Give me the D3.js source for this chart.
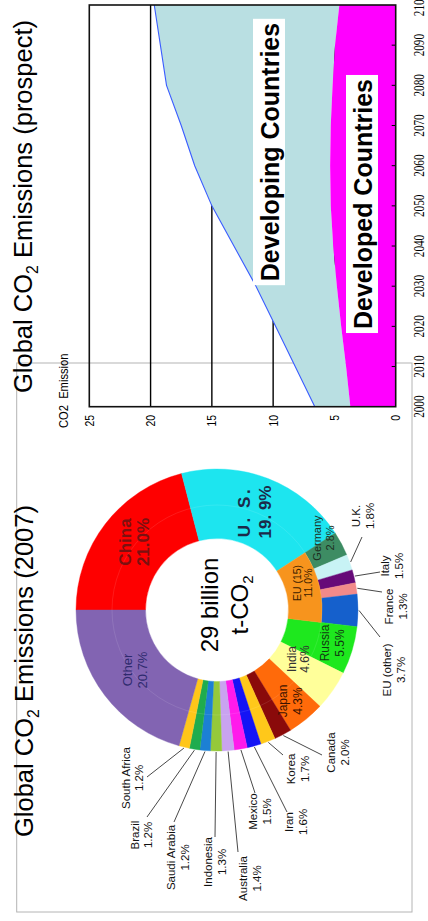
<!DOCTYPE html>
<html>
<head>
<meta charset="utf-8">
<script src="https://cdn.jsdelivr.net/npm/d3@7"></script>
<style>
  body { margin: 0; background: #fff; }
  svg { display: block; }
  text { font-family: "Liberation Sans", Arial, sans-serif; }
</style>
</head>
<body>
<svg id="chart" width="428" height="921"></svg>
<script>
// ---- 2007 emission shares (percent of 29 billion t-CO2) ----
const countries = ["China", "U. S.", "Germany", "U.K.", "Italy", "France", "EU (other)",
  "Russia", "India", "Japan", "Canada", "Korea", "Iran", "Mexico", "Australia",
  "Indonesia", "Saudi Arabia", "Brazil", "South Africa", "Other"];
const shares = [21.0, 19.9, 2.8, 1.8, 1.5, 1.3, 3.7, 5.5, 4.6, 4.3, 2.0, 1.7, 1.6, 1.5, 1.4,
  1.3, 1.2, 1.2, 1.2, 20.7];
const shareLabels = ["21.0%", "19. 9%", "2.8%", "1.8%", "1.5%", "1.3%", "3.7%", "5.5%", "4.6%",
  "4.3%", "2.0%", "1.7%", "1.6%", "1.5%", "1.4%", "1.3%", "1.2%", "1.2%", "1.2%", "20.7%"];
const sliceColors = ["#fe0000", "#1de5ef", "#3d8c63", "#c8f3f5", "#660a78", "#f28a8a", "#1560cc",
  "#1ee81e", "#ffff9a", "#ff6a0a", "#8a0a0a", "#ffc81a", "#1414f5", "#ff1aeb", "#c9a3f0",
  "#95c93a", "#1c80d4", "#1fac4e", "#ffc61a", "#8264b2"];
const euMembers = ["Germany", "U.K.", "Italy", "France", "EU (other)"];
const euName = "EU (15)";
const euShare = 11.0;

// ---- emission outlook (billion t-CO2) ----
const years = [2000, 2010, 2020, 2030, 2040, 2050, 2060, 2070, 2080, 2090, 2100];
const totalEmission = [6.6, 8.2, 9.8, 11.4, 13.2, 15.0, 16.4, 17.5, 18.7, 19.2, 19.7];
const developedEmission = [3.7, 4.05, 4.45, 4.8, 5.1, 5.3, 5.35, 5.3, 5.15, 4.95, 4.6];
const emissionTicks = [0, 5, 10, 15, 20, 25];
const gridValues = [5, 10, 15, 20];

// ---------------------------------------------------------------
const svg = d3.select("#chart");
svg.append("rect").attr("width", 428).attr("height", 921).attr("fill", "#fff");
// the slide is laid out landscape (921 x 428) and turned a quarter turn
const root = svg.append("g").attr("transform", "translate(0,921) rotate(-90)");

// thin grey panel outline
root.append("rect")
  .attr("x", 9).attr("y", 16.7).attr("width", 549).attr("height", 395.3)
  .attr("fill", "none").attr("stroke", "#b4b4b4").attr("stroke-width", 1);

function subTitle(g, x, y, size, before, sub, after) {
  const t = g.append("text").attr("x", x).attr("y", y)
    .attr("font-size", size).attr("fill", "#000");
  t.append("tspan").text(before);
  t.append("tspan").attr("font-size", size * 0.62).attr("dy", size * 0.22).text(sub);
  t.append("tspan").attr("dy", -size * 0.22).text(after);
  return t;
}

// ================= donut chart =================
const cx = 311, cy = 217;
const rIn = 71.5, rMid = 105, rOut = 141;
const pg = root.append("g").attr("transform", `translate(${cx},${cy})`);

subTitle(root, 84, 33, 25.5, "Global CO", "2", " Emissions (2007)");

const pieData = countries.map((c, i) => ({ name: c, share: shares[i], label: shareLabels[i], color: sliceColors[i] }));
const pie = d3.pie().sort(null).value(d => d.share);
const arcs = pie(pieData);
const arcFull = d3.arc().innerRadius(rIn).outerRadius(rOut);
const arcOuter = d3.arc().innerRadius(rMid).outerRadius(rOut);
const arcInner = d3.arc().innerRadius(rIn).outerRadius(rMid);

pg.selectAll("path.slice").data(arcs).join("path")
  .attr("class", "slice")
  .attr("d", d => euMembers.includes(d.data.name) ? arcOuter(d) : arcFull(d))
  .attr("fill", d => d.data.color)
  .attr("stroke", d => d.data.color).attr("stroke-width", 0.4);

const euArcs = arcs.filter(d => euMembers.includes(d.data.name));
pg.append("path")
  .attr("d", arcInner({ startAngle: euArcs[0].startAngle, endAngle: euArcs[euArcs.length - 1].endAngle }))
  .attr("fill", "#f7941d").attr("stroke", "#f7941d").attr("stroke-width", 0.4);

// faint ring between inner and outer band
pg.append("circle").attr("r", rMid).attr("fill", "none")
  .attr("stroke", "#fff").attr("stroke-opacity", 0.1).attr("stroke-width", 1);

// labels drawn inside the ring: [name, dx, dy(center), line gap, size, bold, colour]
const insideLayout = [
  ["China", 68, -83, 18, 17, true, "#7b1010"],
  ["U. S.", 98, 37.5, 21, 17, true, "#1c2b4a"],
  ["Other", -60, -82.5, 15, 13, false, "#2e2a6e"],
  ["Germany", 72, 106.5, 13, 11, false, "#1d2e22"],
  ["Russia", -33, 115, 15, 12, false, "#123812"],
  ["India", -49, 81.5, 13, 12, false, "#333"],
  ["Japan", -91, 73.5, 15, 12, false, "#3a1200"]
];
insideLayout.forEach(([name, dx, dy, gap, size, bold, col]) => {
  const d = pieData.find(p => p.name === name);
  const t = pg.append("text").attr("text-anchor", "middle").attr("font-size", size)
    .attr("font-weight", bold ? "bold" : "normal").attr("fill", col);
  t.append("tspan").attr("x", dx).attr("y", dy - gap / 2 + size * 0.36)
    .attr("letter-spacing", name === "U. S." ? 2.5 : 0).text(d.name);
  t.append("tspan").attr("x", dx).attr("y", dy + gap / 2 + size * 0.36).text(d.label);
});
{
  const t = pg.append("text").attr("text-anchor", "middle").attr("font-size", 10.5).attr("fill", "#3a2000");
  t.append("tspan").attr("x", 27).attr("y", 85.5 - 5.5 + 3.8).text(euName);
  t.append("tspan").attr("x", 27).attr("y", 85.5 + 5.5 + 3.8).text(euShare.toFixed(1) + "%");
}

// labels outside with leader lines: [name, text center u, name baseline v, leader end u, v]
const outsideLayout = [
  ["South Africa", 143, 129.5, 144, 147],
  ["Brazil", 86, 138.5, 104, 147],
  ["Saudi Arabia", 63.5, 175, 99, 174],
  ["Indonesia", 59, 212, 84, 215],
  ["Australia", 42.5, 247, 69, 238],
  ["Mexico", 109.5, 257, 128, 255],
  ["Iran", 99, 293, 109, 287],
  ["Korea", 152, 295, 166, 283],
  ["Canada", 168.5, 335, 166, 322],
  ["EU (other)", 251, 391, 284, 380],
  ["France", 314.5, 393, 329, 382],
  ["Italy", 355, 389, 349, 380],
  ["U.K.", 405, 360, 384, 362]
];
outsideLayout.forEach(([name, tu, tv, eu, ev]) => {
  const a = arcs.find(d => d.data.name === name);
  const mid = (a.startAngle + a.endAngle) / 2;
  const r0 = rOut + 1;
  pg.append("line")
    .attr("x1", Math.sin(mid) * r0).attr("y1", -Math.cos(mid) * r0)
    .attr("x2", eu - cx).attr("y2", ev - cy)
    .attr("stroke", "#333").attr("stroke-width", 0.9);
  const t = pg.append("text").attr("text-anchor", "middle").attr("font-size", 11.5).attr("fill", "#111");
  t.append("tspan").attr("x", tu - cx).attr("y", tv - cy).text(name);
  t.append("tspan").attr("x", tu - cx).attr("y", tv - cy + 13.5).text(a.data.label);
});

// centre total
pg.append("text").attr("text-anchor", "middle").attr("x", 5).attr("y", 1)
  .attr("font-size", 24).attr("fill", "#000").text("29 billion");
{
  const t = pg.append("text").attr("text-anchor", "middle").attr("x", 5).attr("y", 31)
    .attr("font-size", 24).attr("fill", "#000");
  t.append("tspan").text("t-CO");
  t.append("tspan").attr("font-size", 15).attr("dy", 5).text("2");
}

// ================= area chart =================
const x = d3.scaleLinear().domain([2000, 2100]).range([514.3, 916]);
const y = d3.scaleLinear().domain([0, 25]).range([395.7, 89.3]);
const ag = root.append("g");

subTitle(root, 528, 32, 25.5, "Global CO", "2", " Emissions (prospect)");

ag.selectAll("line.grid").data(gridValues).join("line")
  .attr("class", "grid")
  .attr("x1", x(2000)).attr("x2", x(2100))
  .attr("y1", d => y(d)).attr("y2", d => y(d))
  .attr("stroke", "#000").attr("stroke-width", 1.4);

const rows = years.map((yr, i) => ({ year: yr, dev: developedEmission[i], total: totalEmission[i] }));
ag.append("path").datum(rows)
  .attr("d", d3.area().x(d => x(d.year)).y0(d => y(d.dev)).y1(d => y(d.total)))
  .attr("fill", "#b9dfe2");
ag.append("path").datum(rows)
  .attr("d", d3.area().x(d => x(d.year)).y0(y(0)).y1(d => y(d.dev)))
  .attr("fill", "#ff00ff");
ag.append("path").datum(rows)
  .attr("d", d3.line().x(d => x(d.year)).y(d => y(d.total)))
  .attr("fill", "none").attr("stroke", "#3a5cff").attr("stroke-width", 1.1);

// inward year ticks
ag.selectAll("line.xtick").data(years.slice(1, -1)).join("line")
  .attr("class", "xtick")
  .attr("x1", d => x(d)).attr("x2", d => x(d))
  .attr("y1", y(0)).attr("y2", y(0) - 4)
  .attr("stroke", "#000").attr("stroke-width", 1);

// plot frame
ag.append("rect")
  .attr("x", x(2000)).attr("y", y(25))
  .attr("width", x(2100) - x(2000)).attr("height", y(0) - y(25))
  .attr("fill", "none").attr("stroke", "#111").attr("stroke-width", 1.6);

// year labels (narrow serif)
ag.selectAll("text.year").data(years).join("text")
  .attr("class", "year")
  .attr("transform", d => `translate(${x(d)},424) scale(0.72,1)`)
  .attr("text-anchor", "middle").attr("font-size", 15.5)
  .style("font-family", "'Liberation Serif', 'Times New Roman', serif")
  .attr("fill", "#000").text(d => d);

// value labels
ag.selectAll("text.val").data(emissionTicks).join("text")
  .attr("class", "val")
  .attr("transform", d => `translate(506,${y(d) + 4.6}) scale(0.8,1)`)
  .attr("text-anchor", "end").attr("font-size", 13)
  .attr("fill", "#000").text(d => d);

ag.append("text")
  .attr("transform", "translate(493,68) scale(0.86,1)")
  .attr("font-size", 13).attr("fill", "#000")
  .style("white-space", "pre").text("CO2  Emission");

// region captions on white boxes
function caption(text, cu, base) {
  const t = ag.append("text").attr("x", cu).attr("y", base)
    .attr("text-anchor", "middle").attr("font-size", 25).attr("font-weight", "bold")
    .attr("fill", "#000").text(text);
  const w = t.node().getComputedTextLength();
  ag.insert("rect", () => t.node())
    .attr("x", cu - w / 2 - 4).attr("y", base - 26)
    .attr("width", w + 8).attr("height", 32).attr("fill", "#fff");
}
caption("Developing Countries", 769, 279);
caption("Developed Countries", 717, 372);
</script>
</body>
</html>
